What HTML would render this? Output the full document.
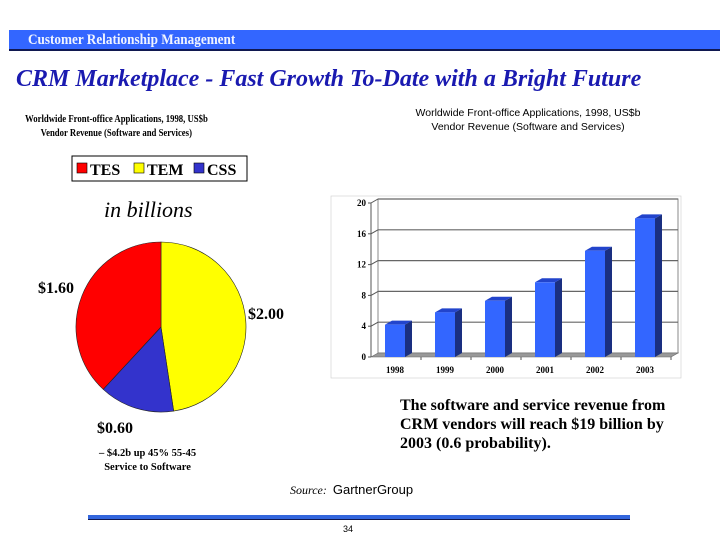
<!DOCTYPE html>
<html><head><meta charset="utf-8"><style>
body{margin:0;background:#fff;}
#root{position:relative;width:720px;height:540px;overflow:hidden;font-family:"Liberation Serif",serif;}
.abs{position:absolute;white-space:nowrap;}
</style></head><body>
<div id="root">
<div class="abs" style="left:9px;top:30px;width:711px;height:19px;background:#3366ff;border-bottom:2px solid #101850;"></div>
<div class="abs" style="left:28px;top:32px;font-size:15px;font-weight:bold;color:#f0f4ff;transform:scaleX(0.88);transform-origin:left top;">Customer Relationship Management</div>
<div class="abs" style="left:16px;top:66px;font-size:24px;font-weight:bold;font-style:italic;color:#1a1ab0;">CRM Marketplace - Fast Growth To-Date with a Bright Future</div>
<div class="abs" style="left:25px;top:113px;width:220px;text-align:center;font-size:10.5px;font-weight:bold;line-height:14px;transform:scaleX(0.83);transform-origin:left top;">Worldwide Front-office Applications, 1998, US$b<br>Vendor Revenue (Software and Services)</div>
<div class="abs" style="left:378px;top:106px;width:300px;text-align:center;font-family:'Liberation Sans',sans-serif;font-size:10.5px;line-height:14px;">Worldwide Front-office Applications, 1998, US$b<br>Vendor Revenue (Software and Services)</div>
<div class="abs" style="left:104px;top:197px;font-size:22px;font-style:italic;">in billions</div>
<div class="abs" style="left:99px;top:447px;font-size:10.5px;font-weight:bold;line-height:14px;text-align:center;">– $4.2b up 45% 55-45<br>Service to Software</div>
<div class="abs" style="left:400px;top:396px;font-size:16px;font-weight:bold;line-height:19px;">The software and service revenue from<br>CRM vendors will reach $19 billion by<br>2003 (0.6 probability).</div>
<div class="abs" style="left:290px;top:482px;font-size:12px;"><i>Source:</i>&nbsp;&nbsp;<span style="font-family:'Liberation Sans',sans-serif;font-size:13px;">GartnerGroup</span></div>
<div class="abs" style="left:88px;top:515px;width:542px;height:4px;background:#3366dd;border-bottom:1px solid #101850;"></div>
<div class="abs" style="left:343px;top:524px;font-family:'Liberation Sans',sans-serif;font-size:9px;">34</div>
<svg id="svg" width="720" height="540" style="position:absolute;left:0;top:0;"></svg>
</div>
<script>
const pieCategories=["TES","TEM","CSS"];
const pieValues=[1.60,2.00,0.60];
const pieLabels=["$1.60","$2.00","$0.60"];
const pieColors=["#ff0000","#ffff00","#3333cc"];
const barCategories=["1998","1999","2000","2001","2002","2003"];
const barValues=[4.2,5.8,7.3,9.7,13.8,18.0];
const yTicks=[0,4,8,12,16,20];

const NS="http://www.w3.org/2000/svg";
const svg=document.getElementById('svg');
function mk(tag,attrs,parent){const e=document.createElementNS(NS,tag);for(const k in attrs)e.setAttribute(k,attrs[k]);(parent||svg).appendChild(e);return e;}

// Legend
const lg=mk('g',{});


mk('rect',{x:72,y:156,width:175,height:25,fill:'#fff',stroke:'#000','stroke-width':1},lg);
const legendX=[77,134,194];
pieCategories.forEach((c,i)=>{
  const g=mk('g',{},lg);
  
  
  mk('rect',{x:legendX[i],y:163,width:10,height:10,fill:pieColors[i],stroke:'#000','stroke-width':0.6},g);
  const t=mk('text',{x:legendX[i]+13,y:175,'font-size':16,'font-weight':'bold','font-family':'Liberation Serif,serif'},g);
  t.textContent=c;
});

// Pie
const cx=161,cy=327,r=85;
const total=pieValues.reduce((a,b)=>a+b,0);
const order=[1,2,0];
let ang=0;
const labelPos=[[38,293],[248,319],[97,433]];
order.forEach(i=>{
  const a0=ang, a1=ang+pieValues[i]/total*2*Math.PI; ang=a1;
  const x0=cx+r*Math.sin(a0),y0=cy-r*Math.cos(a0),x1=cx+r*Math.sin(a1),y1=cy-r*Math.cos(a1);
  const large=(a1-a0)>Math.PI?1:0;
  const p=mk('path',{d:`M${cx},${cy}L${x0},${y0}A${r},${r} 0 ${large} 1 ${x1},${y1}Z`,fill:pieColors[i],stroke:'#222','stroke-width':0.6});
  
  
  const t=mk('text',{x:labelPos[i][0],y:labelPos[i][1],'font-size':16,'font-weight':'bold','font-family':'Liberation Serif,serif'});
  t.textContent=pieLabels[i];
  
  
});

// Bar chart
const X0=371,Y0=357,H=154,W=300,dx=7,dy=4;
const ymax=20;
const yS=v=>Y0-v/ymax*H;
const bg=mk('g',{});


mk('rect',{x:331,y:196,width:350,height:182,fill:'none',stroke:'#ccc','stroke-width':0.6},bg);
mk('rect',{x:X0+dx,y:yS(ymax)-dy,width:W,height:H,fill:'#fff',stroke:'#888','stroke-width':1},bg);
mk('path',{d:`M${X0},${Y0}L${X0+dx},${Y0-dy}L${X0+dx+W},${Y0-dy}L${X0+W},${Y0}Z`,fill:'#999',stroke:'#666','stroke-width':0.6},bg);
mk('line',{x1:X0,y1:Y0,x2:X0,y2:yS(ymax),stroke:'#555','stroke-width':1},bg);
yTicks.forEach(v=>{
  const y=yS(v);
  if(v>0){mk('line',{x1:X0,y1:y,x2:X0+dx,y2:y-dy,stroke:'#555','stroke-width':1},bg);
  const g2=mk('line',{x1:X0+dx,y1:y-dy,x2:X0+dx+W,y2:y-dy,stroke:'#666','stroke-width':1.2},bg);
  }
  mk('line',{x1:X0-3,y1:y,x2:X0,y2:y,stroke:'#555'},bg);
  const t=mk('text',{x:X0-5,y:y+3,'text-anchor':'end','font-size':9,'font-weight':'bold','font-family':'Liberation Serif,serif'},bg);
  t.textContent=v;
  
  
});
const step=W/barCategories.length, bw=20;
barCategories.forEach((c,i)=>{
  const xc=X0+step*(i+0.5)-1, x=xc-bw/2, yt=yS(barValues[i]);
  const g=mk('g',{},bg);
  
  
  mk('path',{d:`M${x+bw},${yt}L${x+bw+dx},${yt-dy}L${x+bw+dx},${Y0-dy}L${x+bw},${Y0}Z`,fill:'#1a2f80'},g);
  mk('path',{d:`M${x},${yt}L${x+dx},${yt-dy}L${x+bw+dx},${yt-dy}L${x+bw},${yt}Z`,fill:'#2244cc'},g);
  mk('rect',{x:x,y:yt,width:bw,height:Y0-yt,fill:'#3366ff'},g);
  mk('line',{x1:X0+step*(i+1),y1:Y0,x2:X0+step*(i+1),y2:Y0+3,stroke:'#555'},bg);
  const t=mk('text',{x:xc,y:Y0+16,'text-anchor':'middle','font-size':9,'font-weight':'bold','font-family':'Liberation Serif,serif'},bg);
  t.textContent=c;
  
  
});
</script>
</body></html>
